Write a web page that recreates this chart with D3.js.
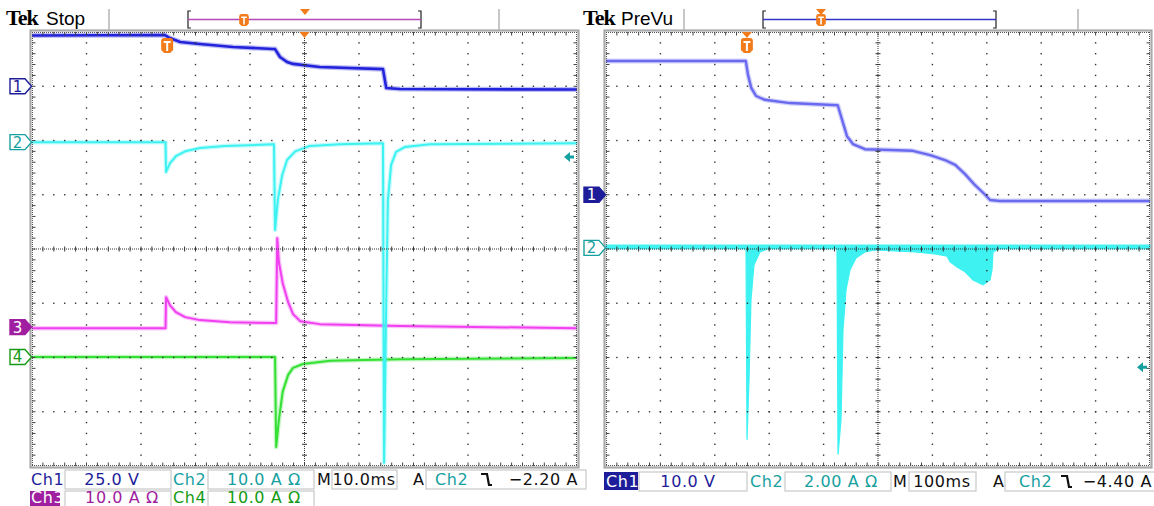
<!DOCTYPE html>
<html>
<head>
<meta charset="utf-8">
<script src="https://cdn.jsdelivr.net/npm/d3@7"></script>
<style>
  body { margin: 0; background: #fff; }
  svg { display: block; }
</style>
</head>
<body>
<svg width="1154" height="506" font-family="DejaVu Sans, sans-serif"></svg>
<script>
// ---- left capture ("Stop"), 10 ms/div, t = ms from left edge of screen
const stopCh1 = [[0, 23.4], [24.4, 23.6], [25.3, 22.2], [27.2, 20.4], [30.8, 19.5], [36.9, 18.1],
  [44.2, 17.2], [44.6, 17.1], [45.5, 13.5], [46.8, 11.2], [47.9, 10.3], [52.8, 8.9], [64.4, 7.9],
  [65.0, -0.8], [67.5, -1.3], [100, -1.5]];                        // volts
const stopCh2 = [[0, 0], [24.5, 0], [24.6, -5.5], [25.3, -3.9], [26.4, -2.6], [28.1, -1.7],
  [30.8, -1.1], [35.4, -0.7], [44.4, -0.4], [44.6, -16.2], [45.1, -10.7], [45.9, -6.1],
  [46.8, -3.3], [48.3, -1.7], [51.0, -0.7], [56.5, -0.4], [64.4, -0.2], [64.6, -59.1],
  [65.0, -29.1], [65.3, -10.7], [65.9, -4.2], [66.8, -1.8], [68.4, -0.9], [73.0, -0.4], [100, -0.2]]; // amps
const stopCh3 = [[0, -0.2], [24.5, -0.2], [24.6, 5.5], [25.3, 4.05], [26.4, 2.76], [28.1, 1.84],
  [30.8, 1.29], [36.3, 0.92], [44.4, 0.74], [44.8, 0.74], [45.0, 16.4], [45.3, 12.0], [46.0, 8.1],
  [47.0, 4.6], [47.9, 2.4], [49.2, 1.1], [52.8, 0.55], [67.5, 0.2], [100, -0.2]]; // amps
const stopCh4 = [[0, 0], [44.6, 0], [44.8, -16.6], [45.3, -11.6], [46.0, -6.4], [47.0, -3.3],
  [47.9, -2.0], [49.7, -1.3], [54.7, -0.7], [67.5, -0.4], [100, -0.2]]; // amps
const stopTrigTime = 24.8;
const stopChannels = ["Ch1", "Ch2", "Ch3", "Ch4"];
const stopPerDiv = [25, 10, 10, 10];
const stopScaleText = ["25.0 V", "10.0 A Ω", "10.0 A Ω", "10.0 A Ω"];
const stopTimebase = "10.0ms";
const stopTrigger = ["Ch2", "−2.20 A"];
const stopTrigLevel = -2.2;

// ---- right capture ("PreVu"), 100 ms/div
const prevuCh1 = [[0, 24.65], [257, 24.65], [261, 22.1], [267, 19.7], [276, 18.2], [292, 17.5],
  [338, 16.9], [426, 16.5], [434, 13.8], [443, 10.8], [454, 9.35], [476, 8.4], [522, 8.25],
  [564, 8.1], [596, 7.3], [623, 6.4], [642, 5.5], [660, 3.8], [678, 1.8], [697, 0], [706, -0.97],
  [724, -1.15], [1000, -1.15]];                                     // volts
const prevuCh2Low = [[0, 0], [257.4, 0], [259.2, -7.07], [262.9, -4.86], [266.5, -1.92],
  [272, -0.63], [283, -0.15], [301.5, 0], [424.6, 0], [426.5, -7.62], [432, -6.33], [435.7, -3.02],
  [441.2, -1.55], [448.5, -0.81], [459.6, -0.37], [476, -0.15], [494.5, -0.07], [568, -0.15],
  [604.8, -0.22], [626.8, -0.3], [632, -0.5], [645.2, -0.7], [660, -0.88], [674.6, -1.18],
  [693, -1.36], [705.9, -1.18], [709.6, -0.8], [711.4, -0.15], [724.3, 0], [1000, 0]]; // amps, lower envelope
const prevuTrigTime = 259;
const prevuChannels = ["Ch1", "Ch2"];
const prevuPerDiv = [10, 2];
const prevuScaleText = ["10.0 V", "2.00 A Ω"];
const prevuTimebase = "100ms";
const prevuTrigger = ["Ch2", "−4.40 A"];
const prevuTrigLevel = -4.4;

const col = {
  ch1: "#2323dc", ch1pv: "#6a6af0", ch2: "#3ef2f2", ch3: "#f040f0", ch4: "#34e034",
  m1: "#1d1d9a", m2: "#17a0a0", m3: "#a01ea0", m4: "#169a16", orange: "#f27c1c"
};

const svg = d3.select("svg");

const panels = {
  stop: { x0: 32, x1: 577, y0: 32, y1: 466, msPerDiv: 10 },
  prevu: { x0: 606, x1: 1150, y0: 32, y1: 466, msPerDiv: 100 }
};

function xScale(p) {
  return d3.scaleLinear().domain([0, p.msPerDiv * 10]).range([p.x0, p.x1]);
}
function yScale(p, perDiv, offsetDiv) {
  const dy = (p.y1 - p.y0) / 8;
  const yc = (p.y0 + p.y1) / 2 - offsetDiv * dy;
  return d3.scaleLinear().domain([0, perDiv]).range([yc, yc - dy]);
}

function graticule(p) {
  const g = svg.append("g");
  const gx = d3.scaleLinear().domain([0, 10]).range([p.x0, p.x1]);
  const gy = d3.scaleLinear().domain([0, 8]).range([p.y0, p.y1]);
  const dots = [];
  d3.range(1, 10).filter(i => i !== 5).forEach(i =>
    d3.range(1, 40).forEach(k => dots.push([gx(i), gy(k / 5)])));
  d3.range(1, 8).filter(j => j !== 4).forEach(j =>
    d3.range(1, 50).forEach(k => dots.push([gx(k / 5), gy(j)])));
  g.selectAll("rect.dot").data(dots).join("rect")
    .attr("x", d => d[0] - 0.7).attr("y", d => d[1] - 0.7)
    .attr("width", 1.4).attr("height", 1.4).attr("fill", "#333");

  // center crosshair
  const cx = gx(5), cy = gy(4);
  g.append("line").attr("x1", p.x0).attr("x2", p.x1).attr("y1", cy).attr("y2", cy)
    .attr("stroke", "#333").attr("stroke-dasharray", "1,1");
  g.append("line").attr("x1", cx).attr("x2", cx).attr("y1", p.y0).attr("y2", p.y1)
    .attr("stroke", "#333").attr("stroke-dasharray", "1,1");
  g.selectAll("line.th").data(d3.range(1, 50)).join("line")
    .attr("x1", k => gx(k / 5)).attr("x2", k => gx(k / 5))
    .attr("y1", cy - 2.5).attr("y2", cy + 2.5).attr("stroke", "#333");
  g.selectAll("line.tv").data(d3.range(1, 40)).join("line")
    .attr("y1", k => gy(k / 5)).attr("y2", k => gy(k / 5))
    .attr("x1", cx - 2.5).attr("x2", cx + 2.5).attr("stroke", "#333");

  // border with comb ticks
  g.append("rect").attr("x", p.x0 - 1.5).attr("y", p.y0 - 1.5)
    .attr("width", p.x1 - p.x0 + 3).attr("height", p.y1 - p.y0 + 3)
    .attr("fill", "none").attr("stroke", "#a9a9a9").attr("stroke-width", 2.2);
  const edge = (x1, y1, x2, y2) => g.append("line").attr("x1", x1).attr("y1", y1)
    .attr("x2", x2).attr("y2", y2).attr("stroke", "#555").attr("stroke-dasharray", "1,1");
  edge(p.x0, p.y0 + 0.5, p.x1, p.y0 + 0.5);
  edge(p.x0, p.y1 - 0.5, p.x1, p.y1 - 0.5);
  edge(p.x0 + 0.5, p.y0, p.x0 + 0.5, p.y1);
  edge(p.x1 - 0.5, p.y0, p.x1 - 0.5, p.y1);
  const hx = d3.range(1, 50).map(k => gx(k / 5));
  const vy = d3.range(1, 40).map(k => gy(k / 5));
  g.selectAll("line.bt").data(hx).join("line").attr("x1", d => d).attr("x2", d => d)
    .attr("y1", p.y0).attr("y2", p.y0 + 3.5).attr("stroke", "#444");
  g.selectAll("line.bb").data(hx).join("line").attr("x1", d => d).attr("x2", d => d)
    .attr("y1", p.y1 - 3.5).attr("y2", p.y1).attr("stroke", "#444");
  g.selectAll("line.bl").data(vy).join("line").attr("y1", d => d).attr("y2", d => d)
    .attr("x1", p.x0).attr("x2", p.x0 + 3.5).attr("stroke", "#444");
  g.selectAll("line.br").data(vy).join("line").attr("y1", d => d).attr("y2", d => d)
    .attr("x1", p.x1 - 3.5).attr("x2", p.x1).attr("stroke", "#444");
}

function trace(g, data, x, y, color, w) {
  const line = d3.line().x(d => x(d[0])).y(d => y(d[1]));
  g.append("path").datum(data).attr("d", line).attr("fill", "none")
    .attr("stroke", color).attr("stroke-width", w + 2.5).attr("stroke-opacity", 0.3)
    .attr("stroke-linejoin", "round");
  g.append("path").datum(data).attr("d", line).attr("fill", "none")
    .attr("stroke", color).attr("stroke-width", w).attr("stroke-linejoin", "round");
}

function tMarker(x, y, s) {
  const g = svg.append("g").attr("transform", `translate(${x},${y}) scale(${s})`);
  g.append("path").attr("d", "M-6,-5 Q-6,-8 -3,-8 H3 Q6,-8 6,-5 V4 L3,7 H-3 L-6,4 Z")
    .attr("fill", col.orange);
  g.append("path").attr("d", "M-3.5,-5 H3.5 V-3 H1 V5 H-1 V-3 H-3.5 Z").attr("fill", "#fff");
}
function triMarker(x, y) {
  svg.append("path").attr("d", `M${x - 5},${y} L${x + 5},${y} L${x},${y + 6} Z`).attr("fill", col.orange);
}

function chanMarker(p, y, label, color, filled) {
  const g = svg.append("g").attr("transform", `translate(${p.x0},${y})`);
  g.append("path").attr("d", "M-22,-7.5 H-7 L-0.5,0 L-7,7.5 H-22 Z")
    .attr("fill", filled ? color : "#fff").attr("stroke", color).attr("stroke-width", 1.4);
  g.append("text").attr("x", -14.5).attr("y", 5.5).attr("text-anchor", "middle")
    .attr("font-size", 15).attr("fill", filled ? "#fff" : color).text(label);
}

function trigArrow(x, y) {
  svg.append("path")
    .attr("d", `M${x},${y} L${x + 6},${y - 5} V${y - 1.5} H${x + 10} V${y + 1.5} H${x + 6} V${y + 5} Z`)
    .attr("fill", col.m2);
}

function header(title, sub, tx, sx, seps, bar, barColor, tBar, tri) {
  svg.append("text").attr("x", tx).attr("y", 25).attr("font-family", "Liberation Serif")
    .attr("font-weight", "bold").attr("font-size", 22).attr("letter-spacing", -1).text(title);
  svg.append("text").attr("x", sx).attr("y", 25).attr("font-family", "Liberation Sans")
    .attr("font-size", 19).text(sub);
  seps.forEach(s => svg.append("line").attr("x1", s).attr("x2", s).attr("y1", 9).attr("y2", 30)
    .attr("stroke", "#b5b5b5").attr("stroke-width", 1.5));
  svg.append("path").attr("d", `M${bar[0] + 3},11 H${bar[0]} V28 H${bar[0] + 3} M${bar[1] - 3},11 H${bar[1]} V28 H${bar[1] - 3}`)
    .attr("fill", "none").attr("stroke", "#222").attr("stroke-width", 1.2);
  svg.append("line").attr("x1", bar[0]).attr("x2", bar[1]).attr("y1", 19.5).attr("y2", 19.5)
    .attr("stroke", barColor).attr("stroke-width", 1.6);
  tMarker(tBar, 20.5, 0.8);
  triMarker(tri, 9);
}

function box(x, y, w, h) {
  svg.append("rect").attr("x", x).attr("y", y).attr("width", w).attr("height", h)
    .attr("fill", "#fff").attr("stroke", "#c9c9c9").attr("stroke-width", 1.2);
}
function txt(x, y, s, color, anchor) {
  return svg.append("text").attr("x", x).attr("y", y).attr("font-size", 16)
    .attr("letter-spacing", 0.6).attr("fill", color).attr("text-anchor", anchor || "start").text(s);
}
function slope(x, y) {
  svg.append("path").attr("d", `M${x},${y - 11} H${x + 6} L${x + 8},${y} H${x + 11}`)
    .attr("fill", "none").attr("stroke", "#111").attr("stroke-width", 2.2);
}

// ---------- left panel
{
  const p = panels.stop;
  const x = xScale(p);
  const y1 = yScale(p, stopPerDiv[0], 3);
  const y2 = yScale(p, stopPerDiv[1], 1.97);
  const y3 = yScale(p, stopPerDiv[2], -1.44);
  const y4 = yScale(p, stopPerDiv[3], -1.99);
  const g = svg.append("g");
  trace(g, stopCh1, x, y1, col.ch1, 2.6);
  trace(g, stopCh3, x, y3, col.ch3, 2);
  trace(g, stopCh4, x, y4, col.ch4, 2);
  trace(g, stopCh2, x, y2, col.ch2, 2);
  graticule(p);
  chanMarker(p, y1(0), "1", col.m1, false);
  chanMarker(p, y2(0), "2", col.m2, false);
  chanMarker(p, y3(0), "3", col.m3, true);
  chanMarker(p, y4(0), "4", col.m4, false);
  trigArrow(p.x1 - 13, y2(stopTrigLevel) + 3);
  tMarker(x(stopTrigTime), p.y0 + 14, 1);
  triMarker((p.x0 + p.x1) / 2, p.y0);
  header("Tek", "Stop", 6, 46, [109, 499], [188, 421], "#b54ab5", 244, 305);

  // readouts
  txt(31, 485, stopChannels[0], col.m1);
  box(65, 470, 106, 19); txt(112, 485, stopScaleText[0], col.m1, "middle");
  txt(173, 485, stopChannels[1], col.m2);
  box(208, 470, 106, 19); txt(264, 485, stopScaleText[1], col.m2, "middle");
  txt(317, 485, "M", "#111");
  box(332, 470, 65, 19); txt(364, 485, stopTimebase, "#111", "middle");
  txt(413, 485, "A", "#111");
  box(426, 470, 160, 19); txt(435, 485, stopTrigger[0], col.m2);
  slope(481, 485); txt(578, 485, stopTrigger[1], "#111", "end");
  svg.append("rect").attr("x", 30).attr("y", 491).attr("width", 30).attr("height", 16).attr("fill", col.m3);
  txt(31, 503, stopChannels[2], "#fff");
  box(65, 491, 106, 20); txt(122, 503, stopScaleText[2], col.m3, "middle");
  txt(173, 503, stopChannels[3], col.m4);
  box(208, 491, 106, 20); txt(264, 503, stopScaleText[3], col.m4, "middle");
}

// ---------- right panel
{
  const p = panels.prevu;
  const x = xScale(p);
  const y1 = yScale(p, prevuPerDiv[0], 1);
  const y2 = yScale(p, prevuPerDiv[1], 0.02);
  const g = svg.append("g");
  trace(g, prevuCh1, x, y1, col.ch1pv, 2.4);
  const area = d3.area().x(d => x(d[0])).y0(y2(0.1)).y1(d => y2(d[1]));
  g.append("path").datum(prevuCh2Low).attr("d", area).attr("fill", col.ch2)
    .attr("stroke", col.ch2).attr("stroke-width", 1.2);
  trace(g, [[0, 0], [1000, 0]], x, y2, col.ch2, 2.2);
  graticule(p);
  chanMarker(p, y1(0), "1", col.m1, true);
  chanMarker(p, y2(0), "2", col.m2, false);
  trigArrow(p.x1 - 13, y2(prevuTrigLevel));
  triMarker(x(prevuTrigTime), p.y0);
  tMarker(x(prevuTrigTime), p.y0 + 14, 1);
  header("Tek", "PreVu", 583, 621, [684, 1078], [763, 996], "#3434c8", 821, 821);

  svg.append("rect").attr("x", 604).attr("y", 472).attr("width", 34).attr("height", 18).attr("fill", col.m1);
  txt(606, 487, prevuChannels[0], "#fff");
  box(639, 472, 108, 19); txt(688, 487, prevuScaleText[0], col.m1, "middle");
  txt(750, 487, prevuChannels[1], col.m2);
  box(785, 472, 106, 19); txt(841, 487, prevuScaleText[1], col.m2, "middle");
  txt(893, 487, "M", "#111");
  box(909, 472, 67, 19); txt(942, 487, prevuTimebase, "#111", "middle");
  txt(993, 487, "A", "#111");
  box(1005, 472, 160, 19); txt(1019, 487, prevuTrigger[0], col.m2);
  slope(1061, 487); txt(1152, 487, prevuTrigger[1], "#111", "end");
}
</script>
</body>
</html>
